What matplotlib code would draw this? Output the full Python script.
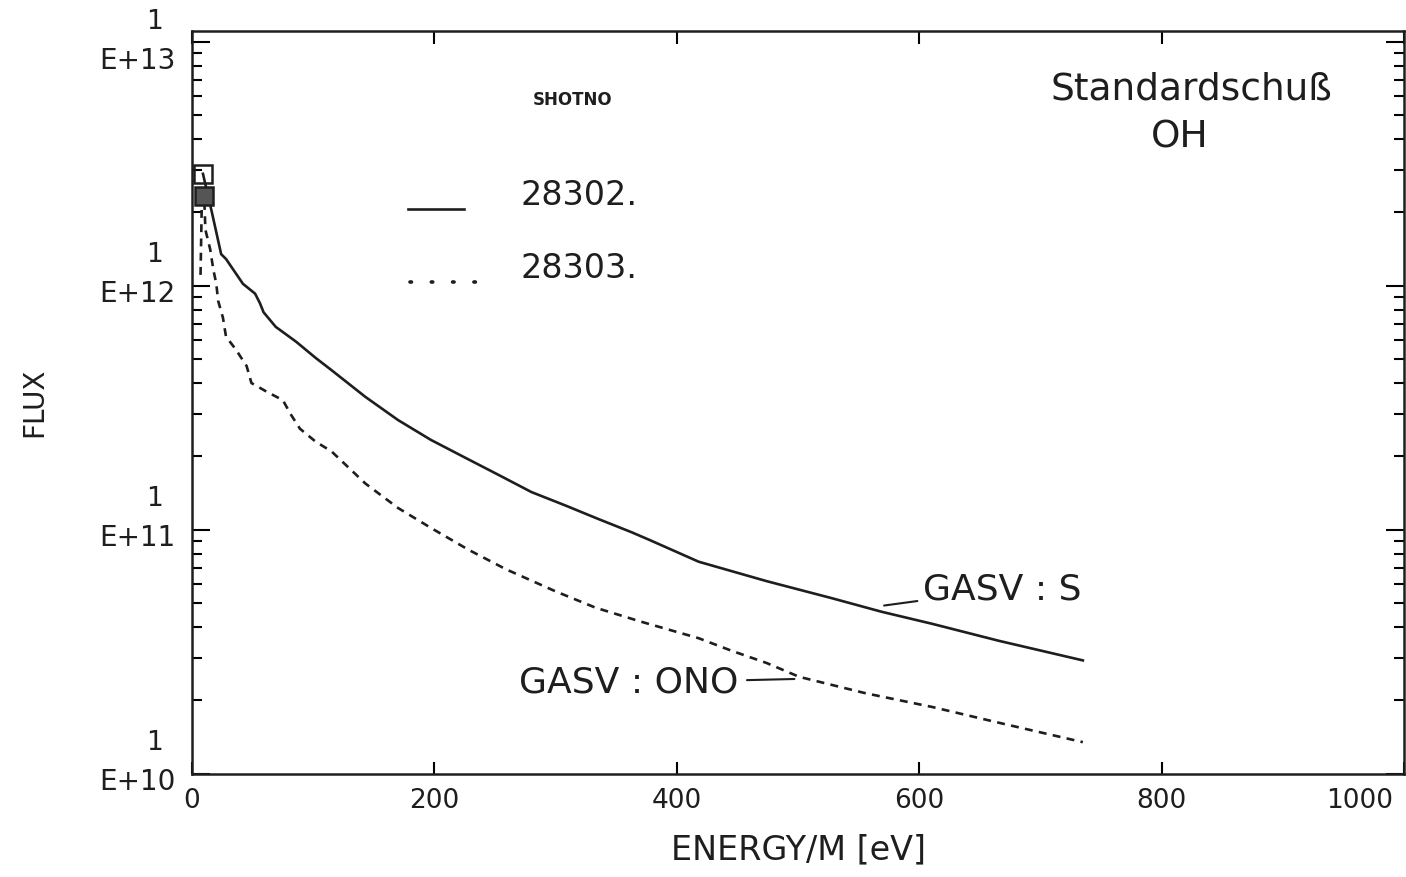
import numpy as np
import matplotlib
matplotlib.use("Agg")
import matplotlib.pyplot as plt
import matplotlib.transforms as mtransforms
from matplotlib.ticker import LogLocator, NullFormatter, FixedLocator

# shot 28302 (GASV:S), solid line
energy_28302 = [9, 16, 20, 24, 28, 42, 52, 56, 59, 69, 86, 102, 115, 143, 170, 197, 226, 253,
                280, 308, 335, 363, 377, 418, 474, 528, 569, 611, 666, 735]
flux_28302 = [2.88e12, 2.04e12, 1.66e12, 1.35e12, 1.29e12, 1.02e12, 9.3e11, 8.5e11, 7.8e11,
              6.8e11, 5.9e11, 5.07e11, 4.52e11, 3.51e11, 2.82e11, 2.34e11, 1.97e11, 1.68e11,
              1.43e11, 1.26e11, 1.11e11, 9.77e10, 9.12e10, 7.41e10, 6.17e10, 5.25e10, 4.62e10,
              4.12e10, 3.51e10, 2.92e10]

# shot 28303 (GASV:ONO), dotted line
energy_28303 = [7, 8, 10, 11, 15, 17.5, 20, 21.5, 25.5, 28, 36, 45, 49, 61, 75, 81, 89, 102, 115,
                143, 170, 197, 228, 259, 300, 333, 371, 418, 445, 474, 501, 556, 611, 666, 735]
flux_28303 = [1.11e12, 2.14e12, 2.34e12, 1.70e12, 1.41e12, 1.17e12, 1.02e12, 8.7e11, 7.4e11,
              6.2e11, 5.5e11, 4.7e11, 4.0e11, 3.7e11, 3.4e11, 3.0e11, 2.6e11, 2.3e11, 2.1e11,
              1.55e11, 1.23e11, 1.02e11, 8.3e10, 6.9e10, 5.6e10, 4.8e10, 4.2e10, 3.6e10,
              3.2e10, 2.85e10, 2.5e10, 2.14e10, 1.88e10, 1.62e10, 1.35e10]

shot_labels = ["28302.", "28303."]
x_ticks = [0, 200, 400, 600, 800, 1000]
y_decades = [1e10, 1e11, 1e12, 1e13]

fig = plt.figure(figsize=(14.06, 8.77), dpi=100)
ax = fig.add_axes([0.1366, 0.1175, 0.862, 0.8472])

ink = "#1e1e1e"
ax.plot(energy_28302, flux_28302, color=ink, lw=1.9, marker="s", markevery=[0],
        markersize=13, markerfacecolor="none", markeredgewidth=1.8)
ax.plot(energy_28303, flux_28303, color=ink, lw=1.9, dashes=(3.0, 2.4), marker="s",
        markevery=[2], markersize=13, markerfacecolor="#555555", markeredgewidth=1.8)

ax.set_yscale("log")
ax.set_xlim(0, 1000)
ax.set_ylim(1e10, 10 ** 13.045)

for s in ax.spines.values():
    s.set_linewidth(1.8)
    s.set_color(ink)

ax.xaxis.set_major_locator(FixedLocator(x_ticks))
ax.set_xticklabels([str(t) for t in x_ticks], fontsize=19, color=ink)
ax.tick_params(axis="x", which="major", direction="in", length=9, width=1.5,
               top=True, bottom=True, pad=10)
# last label sits left of the corner, as in the original plot
last = ax.get_xticklabels()[-1]
last.set_ha("right")
last.set_transform(last.get_transform() + mtransforms.ScaledTranslation(-8 / 72, 0, fig.dpi_scale_trans))

ax.yaxis.set_major_locator(LogLocator(base=10, numticks=10))
ax.yaxis.set_minor_locator(LogLocator(base=10, subs=np.arange(2, 10), numticks=10))
ax.yaxis.set_major_formatter(NullFormatter())
ax.yaxis.set_minor_formatter(NullFormatter())
ax.tick_params(axis="y", which="major", direction="in", length=13, width=1.5,
               left=True, right=True)
ax.tick_params(axis="y", which="minor", direction="in", length=7, width=1.5,
               left=True, right=True)

# y tick labels in the "1 / E+13" style
trans = mtransforms.blended_transform_factory(ax.transAxes, ax.transData)
for d in y_decades:
    dy = -8 if d == 1e13 else 0  # top label sits lower on the original
    ax.annotate("E+%d" % int(round(np.log10(d))), xy=(0, d), xycoords=trans,
                xytext=(-12, -6 + dy), textcoords="offset points", ha="right", va="center",
                fontsize=20, color=ink, annotation_clip=False)
    ax.annotate("1", xy=(0, d), xycoords=trans, xytext=(-21, 22 + dy),
                textcoords="offset points", ha="right", va="center",
                fontsize=19, color=ink, annotation_clip=False)

ax.set_ylabel("FLUX", fontsize=20, color=ink, labelpad=100)
ax.set_xlabel("ENERGY/M [eV]", fontsize=24, color=ink, labelpad=14)

# legend drawn by hand
ax.text(0.314, 0.907, "SHOTNO", transform=ax.transAxes, fontsize=12, fontweight="bold",
        ha="center", va="center", color=ink)
ax.plot([0.178, 0.224], [0.760, 0.760], transform=ax.transAxes, color=ink, lw=1.9)
ax.plot([0.180, 0.234], [0.662, 0.662], transform=ax.transAxes, color=ink, lw=2.6,
        linestyle=(0, (0.4, 5.5)), dash_capstyle="round")
ax.text(0.271, 0.778, shot_labels[0], transform=ax.transAxes, fontsize=24,
        ha="left", va="center", color=ink)
ax.text(0.271, 0.680, shot_labels[1], transform=ax.transAxes, fontsize=24,
        ha="left", va="center", color=ink)

ax.text(0.825, 0.921, "Standardschuß", transform=ax.transAxes, fontsize=27,
        ha="center", va="center", color=ink)
ax.text(0.815, 0.856, "OH", transform=ax.transAxes, fontsize=27,
        ha="center", va="center", color=ink)

ax.annotate("GASV : S", xy=(571, 4.9e10), xytext=(603, 5.7e10), fontsize=26,
            ha="left", va="center", color=ink,
            arrowprops=dict(arrowstyle="-", color=ink, lw=1.5, shrinkA=2, shrinkB=0))
ax.annotate("GASV : ONO", xy=(497, 2.45e10), xytext=(451, 2.36e10), fontsize=26,
            ha="right", va="center", color=ink,
            arrowprops=dict(arrowstyle="-", color=ink, lw=1.5, shrinkA=4, shrinkB=0))

fig.savefig("out.png", dpi=100)
